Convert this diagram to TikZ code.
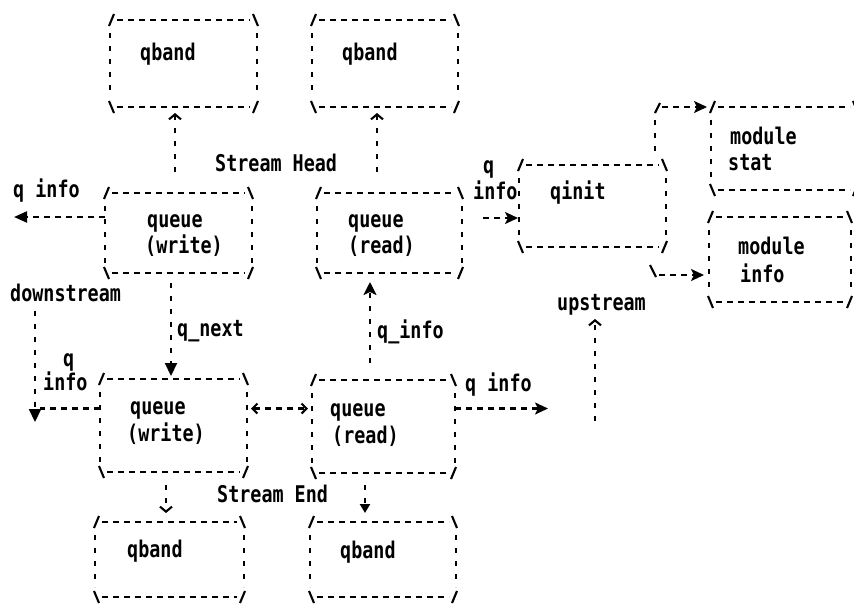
\documentclass[tikz,border=0pt]{standalone}
\usepackage{fontspec}
\usetikzlibrary{calc,arrows.meta}
\newfontfamily\dm[FakeStretch=0.8]{DejaVu Sans Mono}

\tikzset{
  hlink/.style={line width=2.1pt, dash pattern=on 6pt off 5pt},
  vlink/.style={line width=2.1pt, dash pattern=on 5pt off 8pt},
  corner/.style={line width=2.1pt},
  boxarea/.style={rectangle, inner sep=0pt, outer sep=0pt},
  lbl/.style={anchor=base west, inner sep=0pt, font={\dm\bfseries\fontsize{23pt}{26pt}\selectfont}},
  fillhead/.style={-{Triangle[length=13pt,width=12pt]}},
  notchhead/.style={-{Stealth[length=13pt,width=12pt,inset=3pt]}},
  barbhead/.style={-{Straight Barb[length=5pt,width=12pt]}},
}

% a text-style box: dashed edges, broken sides and slashed corners
\newcommand{\asciibox}[5]{%
  \node[boxarea, minimum width=#4pt, minimum height=#5pt] (#1) at (#2,#3) {};
  \draw[hlink] ($(#1.north west)+(7,0)$) -- ($(#1.north east)+(-7,0)$);
  \draw[hlink] ($(#1.south west)+(7,0)$) -- ($(#1.south east)+(-7,0)$);
  \draw[vlink] ($(#1.north west)+(0,13)$) -- ($(#1.south west)+(0,-10)$);
  \draw[vlink] ($(#1.north east)+(0,13)$) -- ($(#1.south east)+(0,-10)$);
  \draw[corner] ($(#1.north west)+(-1,6)$) -- ($(#1.north west)+(4,-6)$);
  \draw[corner] ($(#1.north east)+(-4,-6)$) -- ($(#1.north east)+(1,6)$);
  \draw[corner] ($(#1.south west)+(-1,-6)$) -- ($(#1.south west)+(4,6)$);
  \draw[corner] ($(#1.south east)+(-4,6)$) -- ($(#1.south east)+(1,-6)$);
}

\begin{document}
\begin{tikzpicture}[x=1pt, y=-1pt]
\useasboundingbox (0,0) rectangle (854,606);
\clip (0,0) rectangle (854,606);

% ---- boxes ----
\asciibox{A}{183.5}{63.5}{147}{87}
\asciibox{B}{385}{63.5}{146}{87}
\asciibox{C}{178.5}{233}{147}{80}
\asciibox{D}{389.5}{233}{145}{80}
\asciibox{E}{592.5}{206}{147}{82}
\asciibox{F}{784}{148.5}{146}{83}
\asciibox{G}{780}{259.5}{142}{85}
\asciibox{H}{173.5}{425.5}{147}{93}
\asciibox{I}{383.5}{426.5}{143}{93}
\asciibox{J}{169.5}{559.5}{149}{75}
\asciibox{K}{383}{559.5}{146}{75}

% ---- box contents ----
\node[lbl] (tA)  at (140,60)  {qband};
\node[lbl] (tB)  at (342,60)  {qband};
\node[lbl] (tC1) at (147,227) {queue};
\node[lbl] (tC2) at (145,253) {(write)};
\node[lbl] (tD1) at (348,227) {queue};
\node[lbl] (tD2) at (348,253) {(read)};
\node[lbl] (tE)  at (550,199) {qinit};
\node[lbl] (tF1) at (730,144) {module};
\node[lbl] (tF2) at (728,170) {stat};
\node[lbl] (tG1) at (738,254) {module};
\node[lbl] (tG2) at (740,282) {info};
\node[lbl] (tH1) at (130,414) {queue};
\node[lbl] (tH2) at (127,441) {(write)};
\node[lbl] (tI1) at (330,416) {queue};
\node[lbl] (tI2) at (332,443) {(read)};
\node[lbl] (tJ)  at (127,557) {qband};
\node[lbl] (tK)  at (340,558) {qband};

% ---- free labels ----
\node[lbl] (head)  at (215,171) {Stream Head};
\node[lbl] (end)   at (217,502) {Stream End};
\node[lbl] (qiA)   at (13,197)  {q info};
\node[lbl] (down)  at (10,301)  {downstream};
\node[lbl] (up)    at (557,310) {upstream};
\node[lbl] (qnext) at (177,336) {q\_next};
\node[lbl] (qinf)  at (377,338) {q\_info};
\node[lbl] (qB1)   at (63,366)  {q};
\node[lbl] (qB2)   at (43,390)  {info};
\node[lbl] (qiC)   at (465,391) {q info};
\node[lbl] (qD1)   at (483,173) {q};
\node[lbl] (qD2)   at (473,199) {info};

% ---- free ends ----
\coordinate (leftTip) at (14,217);
\coordinate (downTip) at (35,422);
\coordinate (rightTip) at (548,408.5);
\coordinate (upFoot) at (595,421);

% ---- connectors ----
% stream head to its bands
\draw[vlink, barbhead, shorten <=21pt, shorten >=6pt]
  ($(C.north)+(-3.5,0)$) -- ($(A.south)+(-8.5,0)$);
\draw[vlink, barbhead, shorten <=21pt, shorten >=6pt]
  ($(D.north)+(-12.5,0)$) -- ($(B.south)+(-8,0)$);
% q info out of the write side
\draw[hlink, -{Triangle[length=13pt,width=11pt]}]
  ($(C.west)+(0,-16)$) -- (leftTip);
% q_next
\draw[vlink, fillhead, shorten <=10pt, shorten >=3pt]
  ($(C.south)+(-7.5,0)$) -- ($(H.north)+(-2.5,0)$);
% downstream
\draw[vlink, fillhead, shorten <=9pt] (down.south west -| downTip) -- (downTip);
\draw[hlink] ($(H.west)+(0,-17)$) -- ($(H.west -| downTip)+(5,-17)$);
% q_info
\draw[vlink, -{Stealth[length=13pt,width=13pt,inset=3pt]}, shorten <=17pt, shorten >=9pt]
  ($(I.north)+(-13.5,0)$) -- ($(D.south)+(-19.5,0)$);
% between the two lower queues
\draw[hlink, {Straight Barb[length=5pt,width=10pt]}-{Straight Barb[length=5pt,width=10pt]}, shorten <=4pt, shorten >=4pt]
  ($(H.east)+(0,-17)$) -- ($(I.west)+(0,-18)$);
% q info out of the read side
\draw[hlink, notchhead] ($(I.east)+(0,-18)$) -- (rightTip);
% upstream
\draw[vlink, barbhead, shorten >=4pt] (upFoot) -- (up.south -| upFoot);
% head read queue to qinit
\draw[hlink, notchhead] ($(D.east)+(21,-15)$) -- ($(E.west)+(-1,12)$);
% qinit to module stat
\draw[vlink] ($(E.north east)+(-11,-14)$) -- ++(0,-32);
\draw[corner] ($(E.north east)+(-11,-52)$) -- ($(E.north east)+(-6,-62)$);
\draw[hlink, notchhead] ($(E.north east)+(-4,-58)$) -- ($(F.north west)+(-4,0)$);
% qinit to module info
\draw[corner] ($(E.south east)+(-16,18)$) -- ($(E.south east)+(-10,30)$);
\draw[hlink, notchhead] ($(E.south east)+(-7,28)$) -- ($(G.west)+(-5,15.5)$);
% stream end to its bands
\draw[vlink, barbhead, shorten <=13pt, shorten >=9pt]
  ($(H.south)+(-7.5,0)$) -- ($(J.north)+(-3.5,0)$);
\draw[vlink, -{Triangle[length=9pt,width=10pt]}, shorten <=12pt, shorten >=9pt]
  ($(I.south)+(-18.5,0)$) -- ($(K.north)+(-18,0)$);
\end{tikzpicture}
\end{document}
